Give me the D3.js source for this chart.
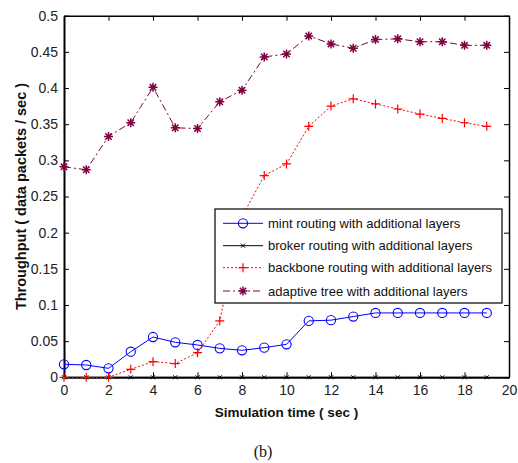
<!DOCTYPE html>
<html><head><meta charset="utf-8">
<script src="https://cdn.jsdelivr.net/npm/d3@7"></script>
<style>body{margin:0;background:#fff}svg{display:block}</style>
</head><body>
<script>
const times = d3.range(0, 20);
const mint = [0.018,0.017,0.0124,0.0354,0.0557,0.0484,0.0447,0.040,0.0373,0.041,0.0456,0.078,0.079,0.084,0.089,0.089,0.089,0.089,0.089,0.089];
const broker = [0,0,0,0,0,0,0,0,0,0,0,0,0,0,0,0,0,0,0,0];
const backbone = [0,0,0,0.011,0.0216,0.019,0.034,0.078,0.222,0.279,0.295,0.347,0.375,0.385,0.378,0.371,0.364,0.358,0.352,0.347];
const adaptive = [0.291,0.287,0.333,0.352,0.401,0.345,0.344,0.381,0.397,0.443,0.447,0.472,0.461,0.455,0.467,0.468,0.464,0.464,0.459,0.459];
const seriesNames = ["mint routing with additional layers","broker routing with additional layers","backbone routing with additional layers","adaptive tree with additional layers"];
const xTicks = [0,2,4,6,8,10,12,14,16,18,20];
const yTicks = [0,0.05,0.1,0.15,0.2,0.25,0.3,0.35,0.4,0.45,0.5];

const W = 518, H = 463;
const L = 64, R = 509, T = 15.7, B = 377.3;
const svg = d3.select("body").append("svg").attr("width", W).attr("height", H);
const x = d3.scaleLinear().domain([0,20]).range([L,R]);
const y = d3.scaleLinear().domain([0,0.5]).range([B,T]);
const font = "Liberation Sans, Arial, sans-serif";

const tl = 5;
const axB = svg.append("g").attr("transform",`translate(0,${B})`).call(d3.axisBottom(x).tickValues(xTicks).tickSizeInner(-tl).tickSizeOuter(0).tickPadding(8).tickFormat(d3.format("d")));
const axT = svg.append("g").attr("transform",`translate(0,${T})`).call(d3.axisTop(x).tickValues(xTicks).tickSizeInner(-tl).tickSizeOuter(0).tickFormat(""));
const axL = svg.append("g").attr("transform",`translate(${L},0)`).call(d3.axisLeft(y).tickValues(yTicks).tickSizeInner(-tl).tickSizeOuter(0).tickPadding(6).tickFormat(d => d===0?"0":d3.format("")(+d.toFixed(2))));
const axR = svg.append("g").attr("transform",`translate(${R},0)`).call(d3.axisRight(y).tickValues(yTicks).tickSizeInner(-tl).tickSizeOuter(0).tickFormat(""));
[axB,axT,axL,axR].forEach(g=>{
  g.select(".domain").attr("stroke","#000").attr("stroke-width",1.5);
  g.selectAll(".tick line").attr("stroke","#000");
  g.selectAll("text").attr("font-family",font).attr("font-size",14).attr("fill","#222");
});
axB.select(".domain").attr("stroke-width",2);
axL.select(".domain").attr("stroke-width",2);
axB.selectAll("text").attr("dy","0.71em");

const series = [
  {name:seriesNames[0], vals:mint, color:"#0000ff", dash:null, marker:"circle", width:1},
  {name:seriesNames[1], vals:broker, color:"#000000", dash:null, marker:"x", width:1},
  {name:seriesNames[2], vals:backbone, color:"#ff0000", dash:"2,2", marker:"plus", width:1},
  {name:seriesNames[3], vals:adaptive, color:"#800040", dash:"7,3,2,3", marker:"star", width:1},
];

function drawMarker(g, type, cx, cy, color){
  if(type==="circle"){
    g.append("circle").attr("cx",cx).attr("cy",cy).attr("r",4.6).attr("fill","none").attr("stroke",color).attr("stroke-width",1.1);
  } else if(type==="x"){
    const s=2;
    g.append("path").attr("d",`M${cx-s},${cy-s}L${cx+s},${cy+s}M${cx-s},${cy+s}L${cx+s},${cy-s}`).attr("stroke",color).attr("stroke-width",1);
  } else if(type==="plus"){
    const s=4.5;
    g.append("path").attr("d",`M${cx-s},${cy}L${cx+s},${cy}M${cx},${cy-s}L${cx},${cy+s}`).attr("stroke",color).attr("stroke-width",1.2);
  } else if(type==="star"){
    const s=4.5, d=3.2;
    g.append("path").attr("d",`M${cx-s},${cy}L${cx+s},${cy}M${cx},${cy-s}L${cx},${cy+s}M${cx-d},${cy-d}L${cx+d},${cy+d}M${cx-d},${cy+d}L${cx+d},${cy-d}`).attr("stroke",color).attr("stroke-width",1.5);
  }
}

const line = d3.line().x((d,i)=>x(times[i])).y(d=>y(d));
const plot = svg.append("g");
series.forEach(s=>{
  plot.append("path").datum(s.vals).attr("d",line).attr("fill","none").attr("stroke",s.color).attr("stroke-width",s.width).attr("stroke-dasharray",s.dash);
  s.vals.forEach((v,i)=>drawMarker(plot,s.marker,x(times[i]),y(v),s.color));
});

const lg = svg.append("g");
const lx=215, ly=209, lw=287, lh=94;
lg.append("rect").attr("x",lx).attr("y",ly).attr("width",lw).attr("height",lh).attr("fill","#fff").attr("stroke","#000").attr("stroke-width",1.2);
const rowY = [223.3,245.7,267.7,291];
series.forEach((s,i)=>{
  const yy=rowY[i];
  lg.append("line").attr("x1",223).attr("x2",263).attr("y1",yy).attr("y2",yy).attr("stroke",s.color).attr("stroke-width",1).attr("stroke-dasharray",s.dash);
  drawMarker(lg,s.marker,243,yy,s.color);
  lg.append("text").attr("x",268).attr("y",yy).attr("dy","0.35em").attr("font-family",font).attr("font-size",13).attr("fill","#111").text(s.name);
});

svg.append("text").attr("x",(L+R)/2).attr("y",412).attr("dy","0.35em").attr("text-anchor","middle").attr("font-family",font).attr("font-weight","bold").attr("font-size",13.5).attr("fill","#111").text("Simulation time ( sec )");
svg.append("text").attr("transform",`translate(21,${(T+B)/2}) rotate(-90)`).attr("dy","0.35em").attr("text-anchor","middle").attr("font-family",font).attr("font-weight","bold").attr("font-size",14.5).attr("fill","#111").text("Throughput ( data packets / sec )");
svg.append("text").attr("x",263).attr("y",457).attr("text-anchor","middle").attr("font-family","Liberation Serif, Times New Roman, serif").attr("font-size",16).attr("fill","#111").text("(b)");
</script>
</body></html>
